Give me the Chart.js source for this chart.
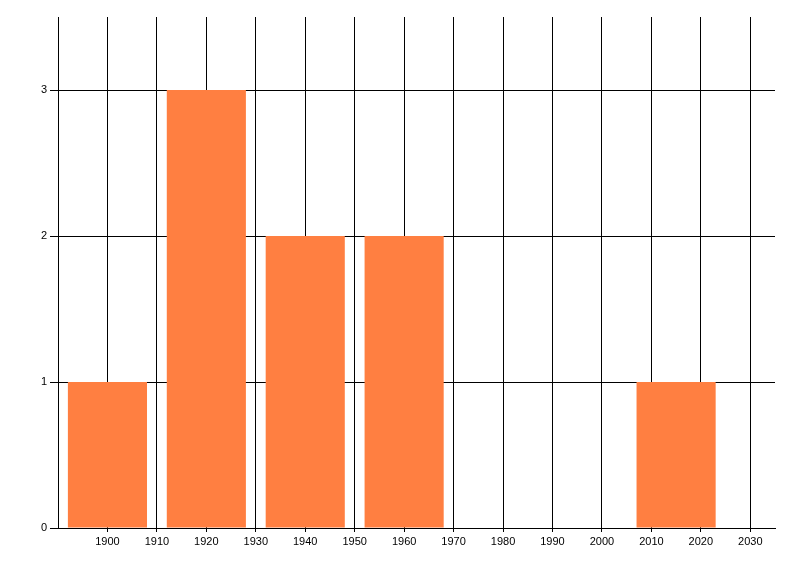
<!DOCTYPE html>
<html>
<head>
<meta charset="utf-8">
<script src="https://cdn.jsdelivr.net/npm/chart.js@4/dist/chart.umd.min.js"></script>
<style>
  html, body { margin: 0; padding: 0; background: #fff; }
  #wrap { width: 800px; height: 576px; }
</style>
</head>
<body>
<div id="wrap"><canvas id="chart"></canvas></div>
<script>
// bar centres (year) and counts
const years = [1900, 1920, 1940, 1960, 2015];
const counts = [1, 3, 2, 2, 1];
const xTicks = [1900, 1910, 1920, 1930, 1940, 1950, 1960, 1970, 1980, 1990, 2000, 2010, 2020, 2030];
const yTicks = [0, 1, 2, 3];

const X_MIN = 1890, X_MAX = 2035;
const Y_MAX = 3.5;
const BAR_YEARS = 16;   // each bar spans 16 years
const TICK_STEP = 10;

Chart.defaults.font.family = "'Liberation Sans', Arial, sans-serif";
Chart.defaults.font.size = 11;
Chart.defaults.color = '#000';

new Chart(document.getElementById('chart'), {
  type: 'bar',
  data: {
    datasets: [{
      data: years.map((y, i) => ({ x: y, y: counts[i] })),
      backgroundColor: '#ff7f41',
      borderWidth: 0,
      categoryPercentage: 1,
      barPercentage: BAR_YEARS / TICK_STEP
    }]
  },
  options: {
    responsive: true,
    maintainAspectRatio: false,
    animation: false,
    plugins: { legend: { display: false }, tooltip: { enabled: false } },
    layout: { padding: { top: 17, right: 25, left: 0, bottom: 0 } },
    scales: {
      x: {
        type: 'linear',
        min: X_MIN,
        max: X_MAX,
        offset: false,
        afterBuildTicks: axis => { axis.ticks = xTicks.map(v => ({ value: v })); },
        afterFit: axis => { axis.height = 48; },
        ticks: { autoSkip: false, maxRotation: 0, padding: 3, callback: v => String(v) },
        grid: { color: '#000', lineWidth: 1, tickLength: 4, offset: false, drawOnChartArea: true },
        border: { color: '#000', width: 1 }
      },
      y: {
        min: 0,
        max: Y_MAX,
        afterBuildTicks: axis => { axis.ticks = yTicks.map(v => ({ value: v })); },
        afterFit: axis => { axis.width = 58; },
        ticks: { padding: 3 },
        grid: { color: '#000', lineWidth: 1, tickLength: 8 },
        border: { color: '#000', width: 1 }
      }
    }
  }
});
</script>
</body>
</html>
